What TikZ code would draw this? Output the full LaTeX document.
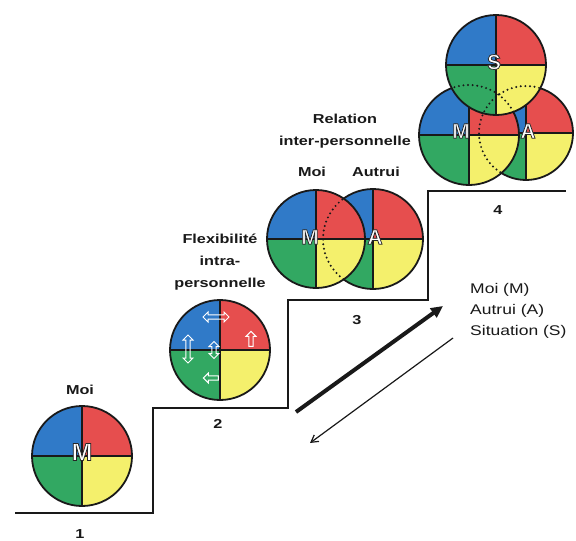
\documentclass[tikz,border=0pt]{standalone}
\usepackage{fontspec}
\setmainfont{Liberation Sans}[FakeStretch=1.25]
\newfontfamily\letterfont{Liberation Sans}
\usetikzlibrary{arrows.meta,shapes.arrows}

\definecolor{qblue}{RGB}{48,122,200}
\definecolor{qred}{RGB}{230,78,78}
\definecolor{qgreen}{RGB}{50,168,98}
\definecolor{qyellow}{RGB}{244,240,108}
\definecolor{ink}{RGB}{25,25,25}

% white letter with a dark outline: fill-and-stroke text rendering
\newcommand\rimmed[1]{{\color{white}%
  \special{pdf:code 2 Tr 0.75 w 0.15 0.15 0.15 RG}#1\special{pdf:code 0 Tr}}}

% four-colour disc: centre x, centre y, radius (pixel units)
\newcommand\quaddisc[3]{%
  \fill[qblue]   (#1,#2) -- +(180:#3) arc[start angle=180,end angle=270,radius=#3] -- cycle;
  \fill[qred]    (#1,#2) -- +(270:#3) arc[start angle=270,end angle=360,radius=#3] -- cycle;
  \fill[qyellow] (#1,#2) -- +(0:#3)   arc[start angle=0,end angle=90,radius=#3] -- cycle;
  \fill[qgreen]  (#1,#2) -- +(90:#3)  arc[start angle=90,end angle=180,radius=#3] -- cycle;
  \draw[divider] (#1-#3,#2) -- (#1+#3,#2) (#1,#2-#3) -- (#1,#2+#3);
  \draw[rim] (#1,#2) circle[radius=#3];
}

\begin{document}
\begin{tikzpicture}[x=1pt,y=-1pt,
  rim/.style={draw=ink,line width=1.8pt},
  divider/.style={draw=ink,line width=1.7pt},
  hidden/.style={draw=ink,line width=2.2pt,dash pattern=on 0pt off 4.6pt,line cap=round},
  stair/.style={draw=ink,line width=1.8pt},
  caption/.style={font=\bfseries\fontsize{13}{22}\selectfont,text=ink,align=center,inner sep=0pt},
  steplabel/.style={font=\bfseries\fontsize{13}{15}\selectfont,text=ink,inner sep=0pt},
  letter/.style={font=\letterfont\bfseries\fontsize{21}{21}\selectfont,inner sep=0pt},
  bigletter/.style={letter,font=\letterfont\bfseries\fontsize{25}{25}\selectfont},
  legend/.style={font=\fontsize{14}{21}\selectfont,text=ink,align=left,inner sep=0pt},
  flexboth/.style={double arrow,draw=white,line width=1pt,minimum width=10pt,
    double arrow head extend=2pt,inner sep=1pt},
  flexone/.style={single arrow,draw=white,line width=1pt,minimum width=10pt,
    single arrow head extend=2pt,inner sep=1pt},
  climb/.style={draw=ink,line width=4pt,-{Triangle[length=12pt,width=11pt]}},
  descend/.style={draw=ink,line width=1.2pt,-{Straight Barb[length=7pt,width=8pt]}}
]
\useasboundingbox (0,0) rectangle (576,541);
\fill[white] (0,0) rectangle (576,541);

% staircase
\draw[stair] (15,513) -- (153,513) -- (153,408) -- (288,408) -- (288,300)
  -- (428,300) -- (428,191) -- (566,191);

% step 1: the self
\quaddisc{82}{456}{50}
\node[bigletter] (m1) at (82,452) {\rimmed{M}};
\node[caption] (moi1) at (80,390) {Moi};
\node[steplabel] (s1) at (80,534) {1};

% step 2: intra-personal flexibility
\quaddisc{220}{350}{50}
\node[flexboth,minimum height=26pt] (f1) at (216,317) {};
\node[flexboth,minimum height=28pt,rotate=90] (f2) at (188,349) {};
\node[flexboth,minimum height=17pt,rotate=90] (f3) at (214,350) {};
\node[flexone,minimum height=15pt,rotate=90] (f4) at (251,340) {};
\node[flexone,minimum height=15pt,rotate=180] (f5) at (212,378) {};
\node[caption] (flex) at (220,262) {Flexibilité\\intra-\\personnelle};
\node[steplabel] (s2) at (218,424) {2};

% step 3: self and other
\quaddisc{373}{239}{50}
\quaddisc{316}{239}{49}
\begin{scope}
  \clip (316,239) circle[radius=49];
  \draw[hidden] (373,239) circle[radius=50];
\end{scope}
\node[letter] (m3) at (310,237) {\rimmed{M}};
\node[letter] (a3) at (375,237) {\rimmed{A}};
\node[caption] (moi3) at (312,172) {Moi};
\node[caption] (aut3) at (376,172) {Autrui};
\node[caption] (rel) at (345,131) {Relation\\inter-personnelle};
\node[steplabel] (s3) at (357,320) {3};

% step 4: self, other and situation
\quaddisc{526}{133}{47}
\quaddisc{469}{135}{50}
\begin{scope}
  \clip (469,135) circle[radius=50];
  \draw[hidden] (526,133) circle[radius=47];
\end{scope}
\quaddisc{496}{65}{50}
\begin{scope}
  \clip (496,65) circle[radius=50];
  \draw[hidden] (526,133) circle[radius=47];
  \draw[hidden] (469,135) circle[radius=50];
\end{scope}
\node[letter] (s4l) at (494,62) {\rimmed{S}};
\node[letter] (m4) at (461,131) {\rimmed{M}};
\node[letter] (a4) at (528,131) {\rimmed{A}};
\node[steplabel] (s4) at (498,210) {4};

% legend and arrows
\node[legend,anchor=west] (key) at (470,311) {Moi (M)\\Autrui (A)\\Situation (S)};
\coordinate (upfrom) at (296,412);
\coordinate (upto) at (443,306);
\coordinate (downfrom) at (453,338);
\coordinate (downto) at (310,443);
\draw[climb] (upfrom) -- (upto);
\draw[descend] (downfrom) -- (downto);
\end{tikzpicture}
\end{document}
